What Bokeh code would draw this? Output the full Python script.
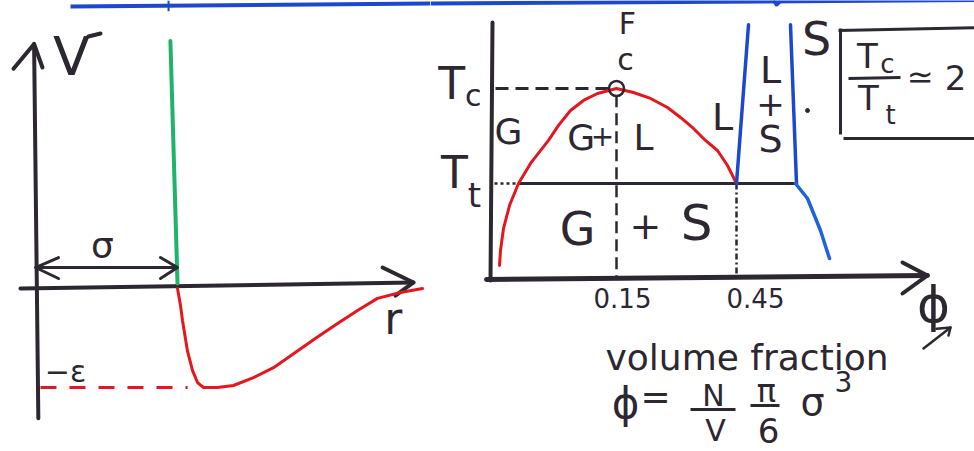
from bokeh.plotting import figure
from bokeh.layouts import row
from bokeh.models import Range1d
from bokeh.core.properties import value
from bokeh.embed import file_html
from bokeh.resources import INLINE

# ---------------- data ----------------
# Pair potential: r in units of sigma, V in units of epsilon
sigma = 1.0
epsilon = 1.0
r_well = [1.0, 1.021, 1.035, 1.07, 1.106, 1.141, 1.183, 1.282, 1.394, 1.535, 1.676,
          1.817, 1.986, 2.127, 2.268, 2.408, 2.57, 2.725]
v_well = [0.0, -0.17, -0.32, -0.63, -0.83, -0.95, -1.0, -1.0, -0.98, -0.90, -0.80,
          -0.66, -0.49, -0.354, -0.222, -0.10, -0.04, 0.0]
wall_r = [0.95, 1.0]          # hard-core wall at r = sigma (hand drawn, slightly tilted)
wall_v = [2.5, 0.05]

# Phase diagram: temperature in units of T_t, volume fraction phi
phi_coex = [-0.1425, -0.14, -0.1325, -0.1175, -0.095, -0.065, -0.02, 0.005, 0.035, 0.0675,
            0.1025, 0.15, 0.1925, 0.235, 0.2775, 0.31, 0.3425, 0.3725, 0.4025, 0.4275, 0.45]
t_coex = [0.137, 0.295, 0.526, 0.768, 1.0, 1.211, 1.453, 1.611, 1.768, 1.874,
          1.947, 2.0, 1.958, 1.895, 1.80, 1.695, 1.579, 1.453, 1.347, 1.189, 1.0]
phi_c, T_c = 0.15, 2.0          # critical point
T_t = 1.0                       # triple point temperature
phi_gas_t = -0.095              # gas at the triple line
phi_liq_t = 0.45                # liquid at the triple line
phi_sol_t = 0.6                 # solid at the triple line
phi_liquidus = [0.45, 0.48]
t_liquidus = [1.0, 2.67]
phi_solidus = [0.6, 0.585]
t_solidus = [1.0, 2.67]
phi_solid_low = [0.5975, 0.6275, 0.66, 0.6825]
t_solid_low = [1.0, 0.842, 0.505, 0.21]
tick_values = [0.15, 0.45]
tick_labels = ["0.15", "0.45"]

# ---------------- style ----------------
FONT = "DejaVu Sans"
INK = "#2c2731"
RED = "#e5161d"
GREEN = "#1fb36c"
BLUE = "#1c48cf"
BLUE2 = "#1f63d8"
H = 451


def make_fig(w, xr, yr):
    p = figure(width=w, height=H, x_range=Range1d(*xr), y_range=Range1d(*yr),
               output_backend="svg", toolbar_location=None, min_border=0,
               x_axis_location=None, y_axis_location=None)
    p.grid.visible = False
    p.outline_line_color = None
    p.background_fill_color = "white"
    p.border_fill_color = "white"
    return p


def label(p, x, y, s, size, align="center", baseline="middle", color=INK, xo=0):
    p.text(x=[x], y=[y], text=[s], text_font=value(FONT), text_font_size=f"{size}px",
           text_align=align, text_baseline=baseline, text_color=color, x_offset=xo)


def arrow_head(p, xs, ys, width=4):
    p.line(xs, ys, line_color=INK, line_width=width, line_cap="round", line_join="round")


# ---------------- left: hard core plus attractive well ----------------
left = make_fig(430, (-0.2465, 2.7817), (-1.6465, 2.909))

# banner line across the top
left.line([0.2465, 2.78], [2.848, 2.879], line_color=BLUE, line_width=4)
left.line([0.937, 0.937], [2.909, 2.80], line_color=BLUE, line_width=2)

# axes
left.line([-0.01, 0.02], [2.47, -1.31], line_color=INK, line_width=4, line_cap="round")
left.line([-0.106, 2.662], [0.0, 0.061], line_color=INK, line_width=4, line_cap="round")
arrow_head(left, [-0.155, -0.01, 0.049], [2.22, 2.47, 2.232])
arrow_head(left, [2.444, 2.662, 2.535], [0.212, 0.061, -0.071])

# hard core and attractive well
left.line(wall_r, wall_v, line_color=GREEN, line_width=4, line_cap="round")
left.line(r_well, v_well, line_color=RED, line_width=3, line_join="round", line_cap="round")
left.line([0.035, r_well[5] - 0.07], [-epsilon, -epsilon], line_color=RED, line_width=3,
          line_dash="16 13")

# sigma span
left.line([0.0, sigma], [0.212, 0.212], line_color=INK, line_width=3)
arrow_head(left, [0.162, 0.0, 0.162], [0.313, 0.212, 0.101], 3)
arrow_head(left, [0.88, sigma, 0.88], [0.313, 0.212, 0.101], 3)

label(left, 0.2535, 2.343, "V", 54)
left.line([0.373, 0.458], [2.545, 2.576], line_color=INK, line_width=4, line_cap="round")
label(left, 0.472, 0.43, "σ", 36)
label(left, 0.211, -0.838, "−ε", 30)
label(left, 2.52, -0.30, "r", 44)

# ---------------- right: phase diagram ----------------
right = make_fig(544, (-0.315, 1.045), (-1.821, 2.926))

right.line([-0.315, 1.045], [2.895, 2.93], line_color=BLUE, line_width=4)
right.line([0.5425, 0.55, 0.56], [2.926, 2.874, 2.916], line_color=BLUE, line_width=3)

# axes
right.line([-0.16, -0.165], [2.695, -0.021], line_color=INK, line_width=4, line_cap="round")
right.line([-0.175, 0.9275], [-0.01, 0.032], line_color=INK, line_width=5, line_cap="round")
arrow_head(right, [0.865, 0.9275, 0.865], [0.168, 0.032, -0.158])

# critical temperature and critical volume fraction guides
right.line([-0.1525, 0.13], [T_c, T_c], line_color=INK, line_width=3, line_dash="13 7")
right.line([phi_c, phi_c], [1.93, 0.0], line_color=INK, line_width=2.5, line_dash="12 6")

# triple line
right.line([-0.155, phi_gas_t], [T_t, T_t], line_color=INK, line_width=2.5, line_dash="3 3")
right.line([phi_gas_t, phi_sol_t], [T_t, T_t], line_color=INK, line_width=3)
right.line([phi_liq_t, phi_liq_t], [T_t, 0.0], line_color=INK, line_width=2.5,
           line_dash="6 3 2 3")

# coexistence curves
right.line(phi_coex, t_coex, line_color=RED, line_width=3, line_join="round", line_cap="round")
right.line(phi_liquidus, t_liquidus, line_color=BLUE, line_width=3.5, line_cap="round")
right.line(phi_solidus, t_solidus, line_color=BLUE, line_width=3.5, line_cap="round")
right.line(phi_solid_low, t_solid_low, line_color=BLUE2, line_width=3.5, line_cap="round",
           line_join="round")
right.scatter([phi_c], [T_c], size=15, marker="circle", fill_alpha=0, line_color=INK,
              line_width=2.5)

# tick labels on the phi axis
right.text(x=tick_values, y=[-0.21] * 2, text=tick_labels, text_font=value(FONT),
           text_font_size="26px", text_align="center", text_baseline="middle",
           text_color=INK, x_offset=[6, 19])

# temperature labels
label(right, -0.262, 2.05, "T", 44)
label(right, -0.208, 1.93, "c", 30)
label(right, -0.255, 1.12, "T", 44)
label(right, -0.205, 0.88, "t", 34)
label(right, 0.1775, 2.68, "F", 30)
label(right, 0.1725, 2.30, "c", 30)

# phase regions
label(right, -0.12, 1.55, "G", 36)
label(right, 0.062, 1.48, "G", 36)
label(right, 0.115, 1.50, "+", 28)
label(right, 0.2175, 1.484, "L", 36)
label(right, 0.415, 1.695, "L", 38)
label(right, 0.535, 2.19, "L", 38)
label(right, 0.535, 1.842, "+", 34)
label(right, 0.535, 1.47, "S", 38)
label(right, 0.65, 2.52, "S", 46)
label(right, 0.0525, 0.526, "G", 46)
label(right, 0.2225, 0.558, "+", 38)
label(right, 0.35, 0.579, "S", 50)
right.scatter([0.6275], [1.768], size=4, marker="circle", color=INK)

# boxed ratio Tc/Tt ~ 2
right.line([0.71, 0.71], [2.632, 1.516], line_color=INK, line_width=3)
right.line([0.705, 1.045], [2.61, 2.64], line_color=INK, line_width=3)
right.line([0.7175, 1.045], [1.474, 1.474], line_color=INK, line_width=3)
label(right, 0.7775, 2.347, "T", 34)
label(right, 0.8275, 2.26, "c", 26)
right.line([0.73, 0.86], [2.105, 2.116], line_color=INK, line_width=3)
label(right, 0.78, 1.895, "T", 34)
label(right, 0.835, 1.716, "t", 26)
label(right, 0.91, 2.12, "≃", 32)
label(right, 0.9975, 2.116, "2", 34)

# axis name and definition
label(right, 0.9425, -0.28, "ϕ", 50)
label(right, 0.1225, -0.832, "volume fraction", 36, align="left", baseline="alphabetic")
right.line([0.9175, 0.985], [-0.737, -0.516], line_color=INK, line_width=2.5, line_cap="round")
arrow_head(right, [0.95, 0.985, 0.98], [-0.53, -0.516, -0.60], 2.5)
label(right, 0.1725, -1.316, "ϕ", 42)
label(right, 0.2475, -1.242, "=", 36)
label(right, 0.3925, -1.232, "N", 30)
right.line([0.335, 0.4475], [-1.379, -1.379], line_color=INK, line_width=3)
label(right, 0.3975, -1.60, "V", 30)
label(right, 0.525, -1.179, "π", 32)
right.line([0.485, 0.5575], [-1.337, -1.337], line_color=INK, line_width=3)
label(right, 0.53, -1.60, "6", 34)
label(right, 0.64, -1.305, "σ", 38)
label(right, 0.7175, -1.084, "3", 28)

layout = row(left, right)
open("out.html", "w").write(file_html(layout, INLINE))
